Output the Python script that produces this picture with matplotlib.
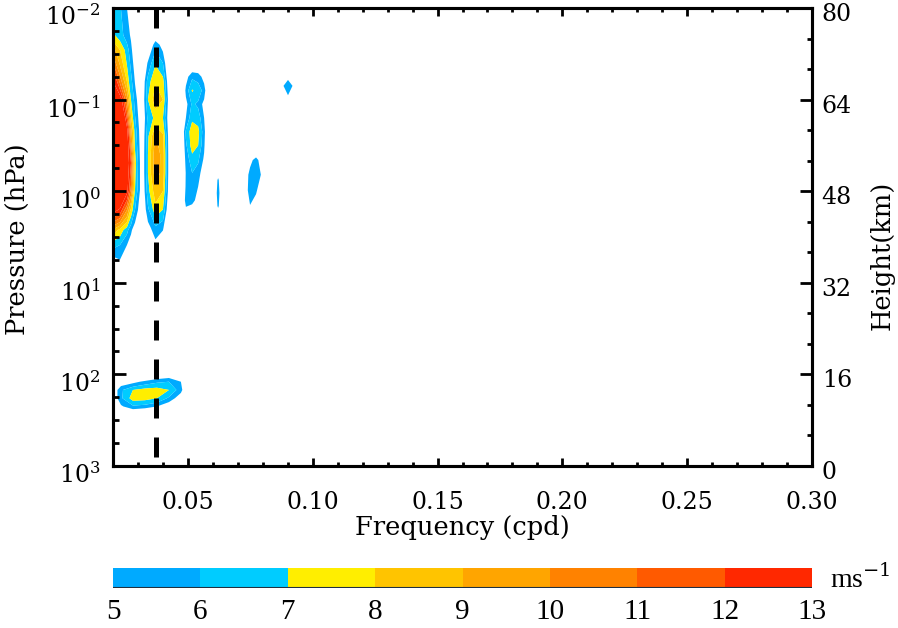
import numpy as np
import matplotlib
matplotlib.use("Agg")
import matplotlib.pyplot as plt
import matplotlib.transforms as mtransforms
from matplotlib.colors import ListedColormap, BoundaryNorm
from matplotlib.cm import ScalarMappable
from matplotlib.ticker import (FixedLocator, MultipleLocator, NullFormatter,
                               FormatStrFormatter, LogFormatterMathtext)

plt.rcParams['font.family'] = ['DejaVu Serif']
plt.rcParams['mathtext.fontset'] = 'dejavuserif'

# ---------------- data ----------------
speed_levels = [5, 6, 7, 8, 9, 10, 11, 12, 13]
level_colors = ['#00AAFF', '#00CCFF', '#FFEE00', '#FFC400',
                '#FFA500', '#FF8200', '#FF5A00', '#FF2800']

x_ticks = [0.05, 0.10, 0.15, 0.20, 0.25, 0.30]
y_ticks_p = [1e-2, 1e-1, 1e0, 1e1, 1e2, 1e3]
height_ticks = [0, 16, 32, 48, 64, 80]
dashed_freq = 1 / 27.0

# Feature A: strong column at the lowest frequencies
A_freq = [0.0200, 0.0228, 0.0256, 0.0272, 0.0288, 0.0308, 0.0332]
A_logp = [-2.0, -1.705, -1.541, -1.301, -0.996, -0.668, -0.308, -0.013,
          0.205, 0.424, 0.587, 0.773]
A_speed = [
    [6.5, 6.15, 5.0, 4.0, 3.0, 2.0, 2.0],
    [7.2, 6.44, 5.5, 4.83, 3.5, 2.5, 2.0],
    [9.5, 8.0, 6.5, 5.33, 4.0, 2.5, 2.0],
    [12.3, 9.56, 7.25, 6.0, 4.67, 3.0, 2.0],
    [15.0, 14.0, 10.0, 7.0, 5.67, 4.0, 2.5],
    [16.0, 15.0, 13.5, 9.33, 6.5, 4.67, 2.5],
    [16.0, 15.5, 14.0, 12.0, 7.5, 5.0, 3.0],
    [15.5, 15.0, 13.5, 10.7, 7.0, 5.0, 3.0],
    [13.5, 12.8, 10.0, 7.67, 6.0, 4.33, 2.5],
    [8.8, 7.63, 6.33, 5.25, 4.25, 3.0, 2.0],
    [6.4, 6.0, 5.0, 4.3, 3.6, 2.8, 2.0],
    [4.2, 4.8, 4.4, 3.8, 3.0, 2.5, 2.0],
]

# Feature B: column around the 27-day period
B_freq = [0.031, 0.034, 0.037, 0.040, 0.043]
B_logp = [-1.8, -1.6, -1.4, -1.2, -1.0, -0.8, -0.6, -0.4, -0.2, 0.0, 0.2, 0.4, 0.6]
B_speed = [
    [2.0, 2.0, 3.0, 2.5, 2.0],
    [2.0, 3.5, 5.6, 4.5, 2.0],
    [2.5, 5.2, 6.9, 6.0, 2.5],
    [3.0, 6.5, 7.9, 7.4, 3.0],
    [3.0, 7.0, 8.6, 8.0, 3.5],
    [3.0, 6.3, 7.3, 7.0, 3.5],
    [3.0, 6.8, 9.1, 8.2, 3.5],
    [3.0, 7.0, 9.7, 8.6, 3.5],
    [3.0, 7.0, 9.6, 8.6, 3.5],
    [3.0, 6.6, 8.6, 8.0, 3.5],
    [3.0, 5.8, 7.6, 7.0, 3.0],
    [2.5, 4.5, 5.8, 5.2, 2.5],
    [2.0, 3.0, 4.4, 3.5, 2.0],
]

# Feature C: weaker column near 0.053 cpd
C_freq = [0.0468, 0.0492, 0.0517, 0.0541, 0.0565, 0.0589]
C_logp = [-1.45, -1.25, -1.1, -0.95, -0.8, -0.65, -0.5, -0.35, -0.2, -0.05, 0.1, 0.25]
C_speed = [
    [2.0, 2.0, 3.0, 3.0, 2.0, 2.0],
    [2.0, 4.5, 5.8, 5.6, 4.5, 2.0],
    [2.0, 5.3, 7.1, 6.6, 5.6, 2.5],
    [2.0, 4.6, 6.2, 5.8, 4.6, 2.0],
    [2.0, 5.0, 6.8, 6.6, 5.0, 2.0],
    [2.5, 6.2, 7.6, 7.3, 5.4, 2.5],
    [2.5, 5.8, 7.5, 7.0, 5.2, 2.3],
    [2.3, 5.4, 6.6, 6.2, 4.8, 2.0],
    [2.0, 5.1, 6.0, 5.5, 4.2, 2.0],
    [2.0, 5.2, 5.5, 5.0, 3.5, 2.0],
    [2.0, 5.6, 5.5, 4.4, 3.0, 2.0],
    [2.0, 4.2, 3.5, 3.0, 2.0, 2.0],
]

# Feature D: thin sliver near 0.062 cpd
D_freq = [0.0609, 0.0621, 0.0633]
D_logp = [-0.23, -0.12, 0.02, 0.16, 0.25]
D_speed = [
    [4.0, 4.0, 4.0],
    [4.0, 5.3, 4.0],
    [4.0, 5.8, 4.0],
    [4.0, 5.3, 4.0],
    [4.0, 4.0, 4.0],
]

# Feature E: small patch near 0.076 cpd
E_freq = [0.0725, 0.0749, 0.0773, 0.0797]
E_logp = [-0.45, -0.34, -0.18, -0.01, 0.15, 0.23]
E_speed = [
    [3.0, 3.0, 3.5, 3.0],
    [3.0, 4.5, 5.6, 4.0],
    [3.5, 5.6, 5.8, 4.8],
    [4.0, 5.6, 5.3, 3.5],
    [3.5, 5.0, 4.0, 3.0],
    [3.0, 3.5, 3.0, 3.0],
]

# Feature F: tiny patch near 0.090 cpd
F_freq = [0.0877, 0.0901, 0.0925]
F_logp = [-1.30, -1.15, -1.0]
F_speed = [
    [4.0, 4.0, 4.0],
    [4.7, 5.9, 4.7],
    [4.0, 4.5, 4.0],
]

# Feature G: tropopause-level band
G_freq = [0.0200, 0.0232, 0.0280, 0.0328, 0.0376, 0.0424, 0.0472, 0.0505]
G_logp = [1.97, 2.08, 2.17, 2.26, 2.35, 2.43]
G_speed = [
    [2.0, 2.0, 2.0, 2.0, 3.0, 3.5, 3.5, 2.0],
    [3.0, 4.2, 4.6, 5.3, 5.8, 6.0, 5.0, 3.0],
    [4.0, 5.8, 7.0, 7.4, 7.5, 7.0, 5.4, 3.0],
    [4.0, 5.8, 7.5, 7.4, 7.0, 5.8, 4.2, 2.5],
    [3.0, 4.8, 5.8, 5.6, 5.0, 4.0, 3.0, 2.0],
    [2.0, 3.0, 3.5, 3.0, 2.5, 2.0, 2.0, 2.0],
]

features = [(A_freq, A_logp, A_speed), (B_freq, B_logp, B_speed),
            (C_freq, C_logp, C_speed), (D_freq, D_logp, D_speed),
            (E_freq, E_logp, E_speed), (F_freq, F_logp, F_speed),
            (G_freq, G_logp, G_speed)]

# ---------------- figure ----------------
W, H = 898, 628
fig = plt.figure(figsize=(W / 100, H / 100), dpi=100)
ax = fig.add_axes([113 / W, 1 - 466 / H, 699 / W, 458 / H])

cmap = ListedColormap(level_colors)
cmap.set_over(level_colors[-1])
norm = BoundaryNorm(speed_levels, cmap.N)

for fr, lp, sp in features:
    X, Y = np.meshgrid(fr, 10.0 ** np.array(lp))
    ax.contourf(X, Y, np.array(sp), levels=speed_levels, cmap=cmap,
                norm=norm, extend='max', antialiased=True, zorder=1)

ax.set_yscale('log')
ax.set_xlim(0.02, 0.30)
ax.set_ylim(1e3, 1e-2)

ax.plot([dashed_freq, dashed_freq], [1e-2, 1e3], color='black', lw=3.6,
        linestyle=(0, (4.0, 3.8)), zorder=3, dash_capstyle='butt')

fs = 17
fs_lab = 18.5
for s in ax.spines.values():
    s.set_linewidth(2.2)

ax.xaxis.set_major_locator(FixedLocator(x_ticks))
ax.xaxis.set_minor_locator(MultipleLocator(0.01))
ax.xaxis.set_major_formatter(FormatStrFormatter('%.2f'))
ax.yaxis.set_major_locator(FixedLocator(y_ticks_p))
ax.yaxis.set_major_formatter(LogFormatterMathtext())
ax.yaxis.set_minor_locator(FixedLocator(
    [10.0 ** (k + f) for k in range(-2, 3) for f in (0.25, 0.5, 0.75)]))
ax.yaxis.set_minor_formatter(NullFormatter())

ax.tick_params(axis='x', which='major', direction='in', length=5.5, width=2,
               top=True, bottom=True, labelsize=fs, pad=18)
ax.tick_params(axis='x', which='minor', direction='in', length=2.8, width=2,
               top=True, bottom=True)
ax.tick_params(axis='y', which='major', direction='in', length=9.2, width=2,
               left=True, right=False, labelsize=fs, pad=9)
ax.tick_params(axis='y', which='minor', direction='in', length=4.5, width=2,
               left=True, right=False)

ax2 = ax.twinx()
ax2.set_ylim(0, 80)
ax2.yaxis.set_major_locator(FixedLocator(height_ticks))
ax2.yaxis.set_minor_locator(MultipleLocator(16 / 3))
ax2.tick_params(axis='y', which='major', direction='in', length=8.6, width=2,
                labelsize=fs, pad=7)
ax2.tick_params(axis='y', which='minor', direction='in', length=3.8, width=2)
for s in ax2.spines.values():
    s.set_linewidth(2.2)

# shift the vertical tick labels slightly downward, like the reference
off_l = mtransforms.ScaledTranslation(0, -7 / 100, fig.dpi_scale_trans)
for lab in ax.get_yticklabels():
    lab.set_transform(lab.get_transform() + off_l)
off_r = mtransforms.ScaledTranslation(0, -4 / 100, fig.dpi_scale_trans)
for lab in ax2.get_yticklabels():
    lab.set_transform(lab.get_transform() + off_r)

fig.text(462 / W, 1 - 528 / H, 'Frequency (cpd)', ha='center', va='center',
         fontsize=fs_lab)
fig.text(17 / W, 1 - 239 / H, 'Pressure (hPa)', ha='center', va='center',
         rotation=90, fontsize=fs_lab)
fig.text(882 / W, 1 - 255 / H, 'Height(km)', ha='center', va='center',
         rotation=90, fontsize=fs_lab)

# colorbar
cax = fig.add_axes([113 / W, 1 - 588 / H, 699 / W, 20 / H])
cb = fig.colorbar(ScalarMappable(norm=norm, cmap=cmap), cax=cax,
                  orientation='horizontal', ticks=speed_levels)
cb.outline.set_visible(False)
cax.axhline(0, color='#203040', lw=1.5)
cax.tick_params(length=0, labelsize=21, pad=8,
                labelfontfamily='Liberation Serif')
cax.set_xticklabels([str(v) for v in speed_levels])
fig.text(830 / W, 1 - 588 / H, r'ms$^{-1}$', ha='left', va='baseline',
         fontsize=20, family='Liberation Serif')

fig.savefig('out.png', dpi=100)
